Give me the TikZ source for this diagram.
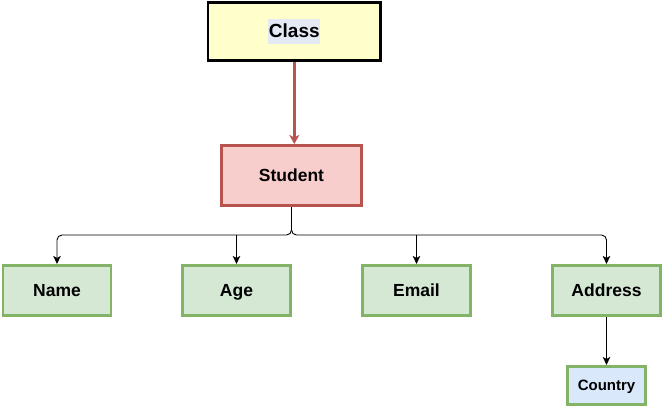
\documentclass[tikz,border=0pt]{standalone}
\usepackage{fontspec}
\setmainfont{Liberation Sans}
\usetikzlibrary{arrows.meta}
\definecolor{yellowfill}{HTML}{FFFFCC}
\definecolor{redfill}{HTML}{F8CECC}
\definecolor{redline}{HTML}{B85450}
\definecolor{greenfill}{HTML}{D5E8D4}
\definecolor{greenline}{HTML}{82B366}
\definecolor{bluefill}{HTML}{DAE8FC}
\definecolor{hilite}{HTML}{E4E9F4}
\tikzset{
  box/.style={draw, rectangle, line width=2.6pt, inner sep=0pt, text height=12.5pt, text depth=0pt, font=\bfseries\fontsize{17.5}{20}\selectfont},
  classbox/.style={box, fill=yellowfill, draw=black, minimum width=172.5pt, minimum height=58.5pt, text height=17.5pt, text depth=6.5pt, font=\bfseries\fontsize{19}{22}\selectfont},
  studentbox/.style={box, fill=redfill, draw=redline, minimum width=140.5pt, minimum height=60.5pt},
  fieldbox/.style={box, fill=greenfill, draw=greenline, minimum width=108pt, minimum height=50.5pt},
  countrybox/.style={box, fill=bluefill, draw=greenline, minimum width=78.5pt, minimum height=38.5pt, text height=10.7pt, font=\bfseries\fontsize{15}{17}\selectfont},
  conn/.style={draw=black, line width=0.9pt, -{Stealth[length=8pt,width=7.5pt,inset=2pt]}},
  mainconn/.style={draw=redline, line width=2.6pt, -{Stealth[length=9pt,width=10pt,inset=2.5pt]}},
}
\begin{document}
\begin{tikzpicture}[x=1pt,y=-1pt]
\useasboundingbox (0,0) rectangle (663,407);
\node[classbox] (class) at (294.3,31.5) {\setlength{\fboxsep}{0.8pt}\colorbox{hilite}{\rule[-6pt]{0pt}{23pt}Class}};
\node[studentbox] (student) at (291.5,175.5) {Student};
\node[fieldbox] (name) at (57,290.5) {Name};
\node[fieldbox] (age) at (236.5,290.5) {Age};
\node[fieldbox] (email) at (416.5,290.5) {Email};
\node[fieldbox] (address) at (606.5,290.5) {Address};
\node[countrybox] (country) at (606.5,385.5) {Country};
\coordinate (bus) at (291.5,235);
\coordinate (ja) at (age.north |- bus);
\coordinate (je) at (email.north |- bus);
\draw[mainconn] (class.south) -- (class.south |- student.north);
\draw[conn, rounded corners=5pt] (student.south) -- (bus) -| (name.north);
\draw[conn, rounded corners=5pt] (student.south) -- (bus) -| (address.north);
\draw[conn] (ja) -- (age.north);
\draw[conn] (je) -- (email.north);
\draw[conn] (address.south) -- (country.north);
\end{tikzpicture}
\end{document}
